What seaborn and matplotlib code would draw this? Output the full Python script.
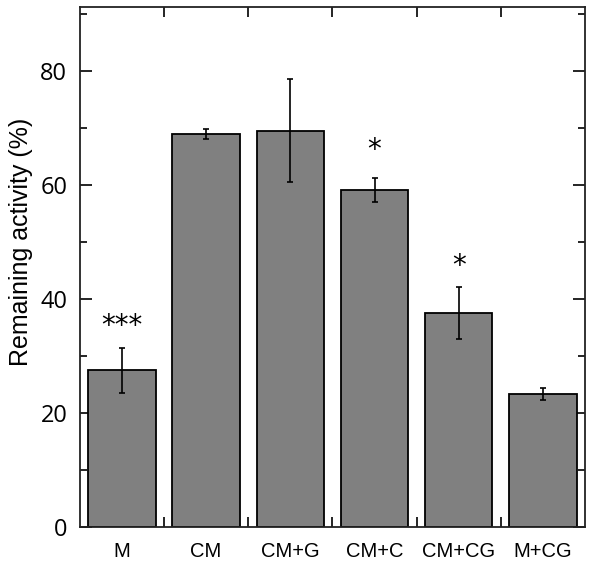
import pandas as pd
import seaborn as sns
import matplotlib.pyplot as plt
from matplotlib.ticker import MultipleLocator, FixedLocator

groups = ['M', 'CM', 'CM+G', 'CM+C', 'CM+CG', 'M+CG']
activity = [27.4, 68.9, 69.5, 59.0, 37.5, 23.3]
err = [4.0, 0.8, 9.0, 2.1, 4.5, 1.1]
stars = ['***', '', '', '*', '*', '']
star_y = [35.2, 0, 0, 66.0, 45.7, 0]

sns.set_style('ticks')
plt.rcParams['font.family'] = ['Open Sans', 'DejaVu Sans']
plt.rcParams['text.color'] = 'black'
plt.rcParams['axes.labelcolor'] = 'black'
plt.rcParams['xtick.color'] = 'black'
plt.rcParams['ytick.color'] = 'black'

df = pd.DataFrame({'group': groups, 'activity': activity})

fig = plt.figure(figsize=(6, 5.73), dpi=100)
ax = fig.add_axes([0.133, 0.081, 0.842, 0.907])

sns.barplot(data=df, x='group', y='activity', color='#808080', saturation=1,
            edgecolor='black', linewidth=1.3, width=0.8, errorbar=None, ax=ax)
ax.errorbar(range(len(groups)), activity, yerr=err, fmt='none', ecolor='black',
            elinewidth=1.2, capsize=2.5, capthick=1.2, zorder=5)

for i, s in enumerate(stars):
    if s:
        ax.text(i, star_y[i], s, ha='center', va='center', fontsize=20,
                family=['DejaVu Sans'])

ax.set_xlim(-0.5, len(groups) - 0.5)
ax.set_ylim(0, 91.2)
ax.yaxis.set_major_locator(MultipleLocator(20))
ax.yaxis.set_minor_locator(MultipleLocator(10))
ax.xaxis.set_minor_locator(FixedLocator([i + 0.5 for i in range(len(groups) - 1)]))

ax.tick_params(axis='y', which='major', direction='in', length=8.5, width=1.2,
               labelsize=17, pad=9, right=True)
ax.tick_params(axis='y', which='minor', direction='in', length=4.7, width=1.2, right=True)
ax.tick_params(axis='x', which='major', length=0, labelsize=14.5, pad=11)
ax.tick_params(axis='x', which='minor', direction='in', length=7.5, width=1.2, top=True)
for lab in ax.get_xticklabels():
    lab.set_family(['Liberation Sans', 'DejaVu Sans'])

for sp in ax.spines.values():
    sp.set_linewidth(1.3)
    sp.set_color('#222222')

ax.set_xlabel('')
ax.set_ylabel('Remaining activity (%)', fontsize=18,
              family=['Liberation Sans', 'DejaVu Sans'])
ax.yaxis.set_label_coords(-0.093, 0.548)

fig.savefig('out.png', dpi=100)
